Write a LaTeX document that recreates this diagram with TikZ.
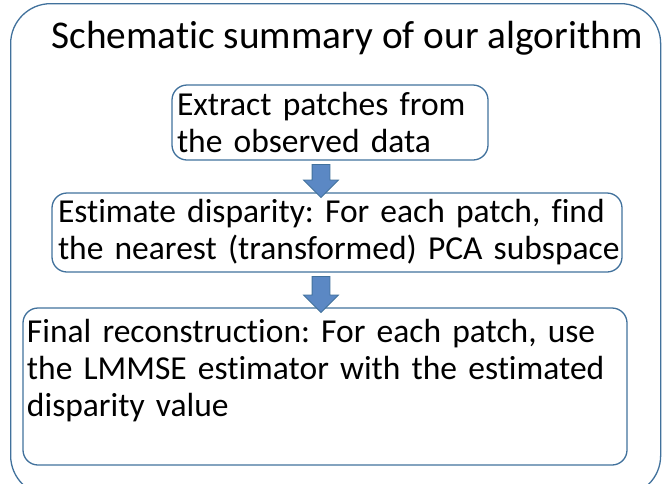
\documentclass[tikz,border=0pt]{standalone}
\usepackage{fontspec}
\setmainfont{Carlito}[Ligatures=NoCommon]
\usepackage{tikz}
\usetikzlibrary{shapes.arrows}
\usetikzlibrary{positioning}
\definecolor{boxline}{HTML}{41719C}
\definecolor{arrowfill}{HTML}{5B88C4}
\frenchspacing
\tikzset{
  stepbox/.style={draw=boxline, line width=1.3pt, rounded corners=15pt,
    inner xsep=4pt, inner ysep=0pt, align=left, anchor=center,
    font=\fontsize{33.5}{37}\selectfont},
  flowarrow/.style={single arrow, shape border rotate=270, draw=boxline,
    fill=arrowfill, line width=0.8pt, inner sep=8.5pt, outer sep=0pt,
    single arrow head extend=8.5pt, minimum height=33pt}
}
\begin{document}
\begin{tikzpicture}[x=1pt, y=-1pt]
  \useasboundingbox (0,0) rectangle (667,483);
  \clip (0,0) rectangle (667,483);
  % outer frame and heading
  \node[draw=boxline, line width=1.3pt, rounded corners=40pt,
        minimum width=650pt, minimum height=492pt, anchor=north west] (frame) at (10,3) {};
  \node[font=\fontsize{39.3}{44}\selectfont] (title) at (347,38) {Schematic summary of our algorithm};
  % the three steps
  \node[stepbox, minimum width=316pt, minimum height=75pt, text width=306pt]
    (extract) at (330,122.5) {\mbox{Extract patches from}\\\mbox{the observed data}};
  \node[stepbox, minimum width=570pt, minimum height=79pt, text width=558pt, inner xsep=6pt]
    (estimate) at (337,232.5) {\mbox{Estimate disparity: For each patch, find}\\\mbox{the nearest (transformed) PCA subspace}};
  \node[stepbox, minimum width=604pt, minimum height=157pt, text width=596pt, inner xsep=3pt]
    (final) at (325,386.5) {\mbox{Final reconstruction: For each patch, use}\\\mbox{the LMMSE estimator with the estimated}\\\mbox{disparity value}\\\mbox{}};
  % arrows between steps
  \coordinate (arrowx) at (321,0);
  \path (extract.south -| arrowx) -- (estimate.north -| arrowx)
    node[midway, flowarrow] (down1) {};
  \path (estimate.south -| arrowx) -- (final.north -| arrowx)
    node[midway, flowarrow, minimum height=36pt] (down2) {};
\end{tikzpicture}
\end{document}
